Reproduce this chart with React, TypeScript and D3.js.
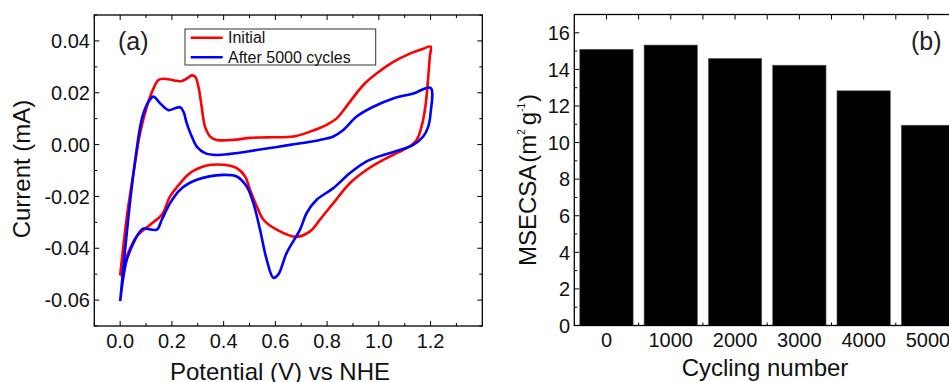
import React from "react";
import * as d3 from "d3";

// (a) cyclic voltammograms, [potential V vs NHE, current mA]
const initialAnodic = [
  [0, -0.0505], [0.026, -0.0277], [0.0515, -0.011], [0.077, 0.0044], [0.103, 0.0146],
  [0.129, 0.0217], [0.148, 0.0249], [0.167, 0.0254], [0.193, 0.0251], [0.219, 0.0246],
  [0.238, 0.0245], [0.2575, 0.0255], [0.277, 0.0267], [0.29, 0.0262], [0.3026, 0.0223],
  [0.315, 0.0146], [0.328, 0.0069], [0.348, 0.0031], [0.373, 0.0018], [0.438, 0.0018],
  [0.502, 0.0026], [0.566, 0.0028], [0.67, 0.0031], [0.734, 0.005], [0.798, 0.0076],
  [0.837, 0.0101], [0.888, 0.0165], [0.94, 0.023], [0.991, 0.0274], [1.056, 0.0319],
  [1.12, 0.0351], [1.172, 0.037], [1.2, 0.0378],
];
const initialCathodic = [
  [1.197, 0.0338], [1.19, 0.0249], [1.18, 0.0146], [1.165, 0.0069], [1.146, 0.0018],
  [1.114, -0.001], [1.069, -0.0033], [1.017, -0.0059], [0.953, -0.0097], [0.888, -0.0149],
  [0.824, -0.0226], [0.772, -0.029], [0.734, -0.0335], [0.682, -0.0356], [0.605, -0.0328],
  [0.554, -0.029], [0.528, -0.0238], [0.502, -0.0174], [0.483, -0.0123], [0.451, -0.0091],
  [0.399, -0.0078], [0.335, -0.0081], [0.27, -0.011], [0.232, -0.0149], [0.193, -0.02],
  [0.161, -0.0271], [0.116, -0.0309], [0.064, -0.0354], [0.026, -0.0431], [0.0064, -0.0501],
];
const cycledAnodic = [
  [0, -0.0604], [0.0129, -0.0469], [0.0322, -0.0277], [0.0515, -0.011], [0.0773, 0.0069],
  [0.0901, 0.0121], [0.1094, 0.0165], [0.1287, 0.0185], [0.1545, 0.0159], [0.1867, 0.0133],
  [0.2124, 0.014], [0.2318, 0.0144], [0.2446, 0.0127], [0.2575, 0.0082], [0.2768, 0.0031],
  [0.2961, -0.0008], [0.3283, -0.0033], [0.3734, -0.004], [0.4249, -0.0036], [0.5279, -0.0021],
  [0.6566, -0.0001], [0.7725, 0.0018], [0.824, 0.0031], [0.8626, 0.0056], [0.9141, 0.0108],
  [0.9785, 0.0146], [1.0557, 0.0178], [1.133, 0.0197], [1.2, 0.0219],
];
const cycledCathodic = [
  [1.2, 0.0121], [1.191, 0.0069], [1.1716, 0.0031], [1.133, -0.0001], [1.0815, -0.0021],
  [1.0171, -0.004], [0.9527, -0.0065], [0.8884, -0.011], [0.824, -0.0168], [0.7596, -0.0213],
  [0.721, -0.0264], [0.6953, -0.0328], [0.6437, -0.0418], [0.6116, -0.0501], [0.5923, -0.0514],
  [0.5665, -0.0444], [0.5407, -0.0328], [0.515, -0.0226], [0.4892, -0.0162], [0.4506, -0.0123],
  [0.3991, -0.0117], [0.2961, -0.0136], [0.2318, -0.0174], [0.1931, -0.0226], [0.1609, -0.029],
  [0.1416, -0.0328], [0.0901, -0.0324], [0.0773, -0.0335], [0.0515, -0.0379], [0.0258, -0.0444],
  [0.0129, -0.0508], [0, -0.0604],
];

const xTicksA = [0, 0.2, 0.4, 0.6, 0.8, 1.0, 1.2];
const yTicksA = [-0.06, -0.04, -0.02, 0, 0.02, 0.04];

// (b) MSECSA vs cycle number
const cycles = [0, 1000, 2000, 3000, 4000, 5000];
const msecsa = [15.1, 15.33, 14.6, 14.23, 12.83, 10.95];
const yTicksB = [0, 2, 4, 6, 8, 10, 12, 14, 16];

const FONT = "'Liberation Sans', Arial, sans-serif";

const PanelA = () => {
  const left = 94.3, right = 482.3, top = 15, bottom = 326;
  const x = d3.scaleLinear().domain([-0.1, 1.4]).range([left, right]);
  const y = d3.scaleLinear().domain([-0.07, 0.05]).range([bottom, top]);
  const line = d3
    .line<number[]>()
    .x((d) => x(d[0]))
    .y((d) => y(d[1]))
    .curve(d3.curveCatmullRom.alpha(0.5));
  const xMinor = d3.range(-1, 14).map((k) => k / 10);
  const yMinor = d3.range(-7, 6).map((k) => k / 100);

  return (
    <g>
      {/* ticks, all pointing inward */}
      {xMinor.map((v, k) => {
        const len = k % 2 === 1 ? 5 : 3;
        return (
          <g key={`xt${k}`} stroke="#000" strokeWidth={1}>
            <line x1={x(v)} x2={x(v)} y1={bottom} y2={bottom - len} />
            <line x1={x(v)} x2={x(v)} y1={top} y2={top + len} />
          </g>
        );
      })}
      {yMinor.map((v, k) => {
        const len = k % 2 === 1 ? 5 : 3;
        return (
          <g key={`yt${k}`} stroke="#000" strokeWidth={1}>
            <line x1={left} x2={left + len} y1={y(v)} y2={y(v)} />
            <line x1={right} x2={right - len} y1={y(v)} y2={y(v)} />
          </g>
        );
      })}
      <rect x={left} y={top} width={right - left} height={bottom - top} fill="none" stroke="#000" strokeWidth={1.3} />

      {xTicksA.map((v) => (
        <text key={`xl${v}`} x={x(v)} y={348} textAnchor="middle" fontSize={20}>
          {v.toFixed(1)}
        </text>
      ))}
      {yTicksA.map((v) => (
        <text key={`yl${v}`} x={90} y={y(v)} dy="0.36em" textAnchor="end" fontSize={20}>
          {v.toFixed(2)}
        </text>
      ))}

      <path d={line([...initialAnodic, ...initialCathodic, initialAnodic[0]]) ?? ""} fill="none" stroke="#ff0000" strokeWidth={2.6} strokeLinejoin="round" />
      <path d={line(cycledAnodic.concat(cycledCathodic)) ?? ""} fill="none" stroke="#0000ff" strokeWidth={2.6} strokeLinejoin="round" />

      {/* legend */}
      <rect x={185} y={29} width={190.7} height={36} fill="#fff" stroke="#333" strokeWidth={1} />
      <line x1={190.7} x2={222.7} y1={37.7} y2={37.7} stroke="#ff0000" strokeWidth={2.6} />
      <line x1={190.7} x2={222.7} y1={57.3} y2={57.3} stroke="#0000ff" strokeWidth={2.6} />
      <text x={228} y={43.3} fontSize={16}>Initial</text>
      <text x={228} y={62.7} fontSize={16}>After 5000 cycles</text>

      <text x={118} y={50} fontSize={25} fill="#222">(a)</text>
      <text x={280} y={380} textAnchor="middle" fontSize={24}>Potential (V) vs NHE</text>
      <text transform="translate(30,169) rotate(-90)" textAnchor="middle" fontSize={24}>Current (mA)</text>
    </g>
  );
};

const PanelB = () => {
  const left = 574.3, top = 14.5, bottom = 325.5;
  const x = d3.scaleLinear().domain([-500, 5500]).range([left, left + 6000 * 0.0643]);
  const right = x(5500);
  const y = d3.scaleLinear().domain([0, 17]).range([bottom, top]);
  const half = 415;
  const topTicks = d3.range(0, 5501, 500);
  const botMinor = d3.range(500, 5501, 1000);
  const yMinor = d3.range(1, 17, 2);

  return (
    <g>
      {topTicks.map((c) => (
        <line key={`tt${c}`} x1={x(c)} x2={x(c)} y1={top} y2={top + 5} stroke="#000" />
      ))}
      {botMinor.map((c) => (
        <line key={`bt${c}`} x1={x(c)} x2={x(c)} y1={bottom} y2={bottom - 3} stroke="#000" />
      ))}
      {yTicksB.map((v) => (
        <line key={`ym${v}`} x1={left} x2={left + 5} y1={y(v)} y2={y(v)} stroke="#000" />
      ))}
      {yMinor.map((v) => (
        <line key={`yn${v}`} x1={left} x2={left + 3} y1={y(v)} y2={y(v)} stroke="#000" />
      ))}

      {cycles.map((c, i) => (
        <rect
          key={`bar${c}`}
          x={x(c - half)}
          y={y(msecsa[i])}
          width={x(c + half) - x(c - half)}
          height={y(0) - y(msecsa[i])}
          fill="#000"
          stroke="#666"
          strokeWidth={0.6}
        />
      ))}
      <rect x={left} y={top} width={right - left} height={bottom - top} fill="none" stroke="#000" strokeWidth={1.3} />

      {cycles.map((c) => (
        <text key={`xl${c}`} x={x(c)} y={347} textAnchor="middle" fontSize={20}>
          {c}
        </text>
      ))}
      {yTicksB.map((v) => (
        <text key={`yl${v}`} x={570} y={y(v)} dy="0.36em" textAnchor="end" fontSize={20}>
          {v}
        </text>
      ))}

      <text x={911} y={50} fontSize={25} fill="#222">(b)</text>
      <text x={765} y={376} textAnchor="middle" fontSize={24}>Cycling number</text>
      <text transform="translate(536,180) rotate(-90)" textAnchor="middle" fontSize={24}>
        MSECSA
        <tspan dx={2}>(m</tspan>
        <tspan fontSize={10} dy={-11}>2</tspan>
        <tspan dx={4} dy={11}>g</tspan>
        <tspan fontSize={10} dy={-11}>-1</tspan>
        <tspan dx={1} dy={11}>)</tspan>
      </text>
    </g>
  );
};

export default function App() {
  return (
    <svg
      width={949}
      height={382}
      style={{ position: "absolute", left: 0, top: 0, background: "#fff" }}
      fontFamily={FONT}
      fill="#111"
    >
      <PanelA />
      <PanelB />
    </svg>
  );
}
